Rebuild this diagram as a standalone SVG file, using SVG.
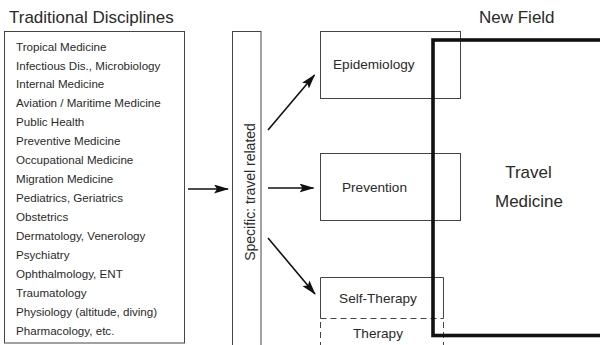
<svg xmlns="http://www.w3.org/2000/svg" width="600" height="345" viewBox="0 0 600 345">
<style>
text{font-family:"Liberation Sans",Arial,sans-serif;fill:#2a2a2a}
.title{font-size:17px}
.item{font-size:11.6px}
.lbl{font-size:13.6px}
.box{fill:none;stroke:#444;stroke-width:1}
.dash{fill:none;stroke:#444;stroke-width:1;stroke-dasharray:6 4}
.conn{stroke:#111;stroke-width:1.6;fill:none;marker-end:url(#ah)}
</style>
<defs>
<marker id="ah" viewBox="0 0 15 9" refX="14" refY="4.5" markerWidth="15" markerHeight="9" markerUnits="userSpaceOnUse" orient="auto">
<path d="M0,0 L15,4.5 L0,9 L3,4.5 z" fill="#111"/>
</marker>
</defs>
<rect width="600" height="345" fill="#fff"/>
<text class="title" x="9" y="23.3">Traditional Disciplines</text>
<text class="title" x="479" y="23.3">New Field</text>
<g id="traditional">
<rect class="box" x="4.5" y="31.5" width="180" height="311.5"/>
<g class="item">
<text x="16" y="50.5">Tropical Medicine</text>
<text x="16" y="69.5">Infectious Dis., Microbiology</text>
<text x="16" y="88.4">Internal Medicine</text>
<text x="16" y="107.4">Aviation / Maritime Medicine</text>
<text x="16" y="126.3">Public Health</text>
<text x="16" y="145.3">Preventive Medicine</text>
<text x="16" y="164.3">Occupational Medicine</text>
<text x="16" y="183.2">Migration Medicine</text>
<text x="16" y="202.2">Pediatrics, Geriatrics</text>
<text x="16" y="221.1">Obstetrics</text>
<text x="16" y="240.1">Dermatology, Venerology</text>
<text x="16" y="259.1">Psychiatry</text>
<text x="16" y="278">Ophthalmology, ENT</text>
<text x="16" y="297">Traumatology</text>
<text x="16" y="316">Physiology (altitude, diving)</text>
<text x="16" y="335">Pharmacology, etc.</text>
</g>
</g>
<g id="specific">
<rect class="box" x="232.5" y="31.5" width="28.5" height="330"/>
<text class="lbl" style="font-size:14px" transform="translate(254.5,192) rotate(-90)" text-anchor="middle">Specific: travel related</text>
</g>
<g id="epidemiology">
<rect class="box" x="320.5" y="31.5" width="140" height="67"/>
<text class="lbl" x="333" y="69.3">Epidemiology</text>
</g>
<g id="prevention">
<rect class="box" x="320.5" y="153.5" width="140" height="67"/>
<text class="lbl" x="374.5" y="191.7" text-anchor="middle">Prevention</text>
</g>
<g id="self-therapy">
<path class="box" d="M320.5,318.5 V277.5 H443.5 V318.5"/>
<path class="dash" d="M320.5,318.5 H443.5"/>
<text class="lbl" x="378" y="303.3" text-anchor="middle">Self-Therapy</text>
</g>
<g id="therapy">
<path class="dash" d="M320.5,322 V350 M443.5,322 V350"/>
<text class="lbl" x="378" y="337.7" text-anchor="middle">Therapy</text>
</g>
<g id="travel-medicine">
<rect x="433" y="40" width="180" height="295.5" fill="none" stroke="#111" stroke-width="3.6"/>
<text class="title" x="528.5" y="177.7" text-anchor="middle">Travel</text>
<text class="title" x="529" y="206.7" text-anchor="middle">Medicine</text>
</g>
<g id="connectors">
<line class="conn" x1="188" y1="189" x2="228" y2="189"/>
<line class="conn" x1="268" y1="130" x2="314.5" y2="75"/>
<line class="conn" x1="268" y1="188" x2="313.5" y2="188"/>
<line class="conn" x1="268" y1="238" x2="315" y2="294"/>
</g>
</svg>
